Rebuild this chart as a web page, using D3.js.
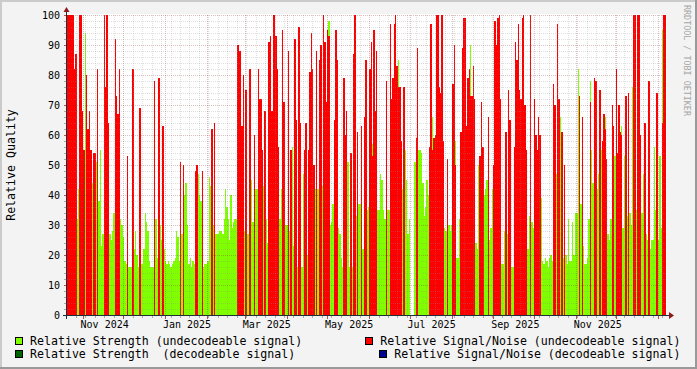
<!DOCTYPE html>
<html><head><meta charset="utf-8">
<script src="https://cdn.jsdelivr.net/npm/d3@7"></script>
<style>
html,body{margin:0;padding:0;background:#F3F3F3;}
svg{display:block;}
text{font-family:"DejaVu Sans Mono",monospace;fill:#000;}
</style></head><body>
<svg id="chart" width="697" height="369"></svg>
<script>
// Relative Strength (undecodeable signal), one value per day
const strength = [
null,null,null,null,null,null,null,32,42,null,
null,null,null,94,null,null,null,null,44,null,
null,51,null,38,55,23,27,null,null,null,
null,27,25,28,34,null,null,null,null,32,
30,26,18,17,null,16,16,16,null,22,
28,20,16,null,17,17,22,34,31,28,
18,16,16,16,null,32,19,null,30,25,
null,22,18,17,18,17,16,17,18,19,
28,26,18,null,27,null,40,44,30,17,
19,16,18,17,null,null,47,40,38,null,
16,17,17,18,46,43,null,30,null,27,
27,27,28,28,27,32,42,36,32,25,
40,29,31,32,32,null,null,null,null,null,
28,null,27,27,null,45,31,null,42,42,
null,null,null,null,43,null,32,24,null,null,
null,null,null,null,null,null,32,42,null,null,
30,30,null,28,null,56,23,null,null,16,
null,null,16,47,null,null,20,null,null,null,
null,null,42,null,42,null,null,43,null,null,
null,null,98,30,31,37,null,null,null,29,
27,19,16,null,null,null,51,16,null,16,
null,null,33,null,37,37,null,22,null,null,
35,36,null,null,57,null,null,null,35,35,
47,45,35,32,null,35,35,null,null,null,
null,null,null,85,null,null,42,null,55,45,
27,32,null,null,null,51,null,null,55,55,
54,44,33,36,45,40,null,null,66,null,
null,null,null,null,null,null,null,29,28,null,
30,28,30,null,null,58,19,19,32,null,
null,null,null,null,null,null,90,null,null,null,
24,22,50,null,null,null,40,42,45,null,
25,29,42,null,null,null,null,null,null,17,
17,28,null,27,null,null,16,16,null,null,
null,null,null,null,null,null,null,null,22,33,
null,31,29,null,null,null,null,null,39,18,
17,19,18,16,19,20,18,null,null,47,
null,null,66,null,19,null,20,17,32,18,
18,31,20,34,34,82,null,37,null,23,
17,17,19,32,78,55,44,null,null,42,
47,null,55,null,null,66,null,27,25,32,
null,null,53,null,null,null,null,63,29,53,
null,33,null,34,30,76,null,null,35,null,
null,null,34,47,null,27,25,null,22,25,
25,56,35,null,25,53,29,95,null,null
];
// Relative Signal/Noise (undecodeable signal), one value per day
const snr = [
100,100,100,100,100,82,87,null,null,100,
100,68,55,null,80,62,68,55,null,54,
54,null,82,null,null,null,null,100,76,100,
64,null,null,null,null,92,73,67,82,null,
null,null,null,null,53,null,null,null,82,null,
null,null,null,69,null,null,null,null,null,null,
null,null,null,null,78,null,null,79,null,null,
63,null,null,null,null,null,null,null,null,null,
null,null,null,51,null,50,null,null,null,null,
null,null,null,null,48,50,null,null,null,48,
null,null,null,null,null,null,62,null,64,null,
null,null,null,null,null,null,null,null,null,null,
null,null,null,null,null,90,88,88,63,80,
null,75,null,null,82,null,null,60,null,null,
82,72,72,55,null,68,null,null,91,93,
68,100,100,93,82,56,null,null,95,71,
null,null,88,null,55,null,null,92,65,null,
96,64,null,null,55,64,null,55,81,94,
82,50,null,88,null,85,90,null,100,91,
71,95,93,null,null,null,65,95,85,null,
null,null,null,79,60,68,null,null,54,null,
87,100,null,61,null,null,63,null,66,85,
null,null,82,91,53,95,68,88,null,null,
null,null,null,null,78,null,null,97,72,79,
97,100,83,76,76,58,null,76,null,null,
null,null,null,null,null,null,59,89,null,null,
null,null,null,null,null,null,56,97,55,59,
60,100,100,76,74,100,58,null,null,52,
null,null,null,77,90,50,null,null,null,61,
89,99,99,63,79,82,73,73,83,72,
null,null,null,53,71,56,null,null,null,66,
null,null,null,50,98,90,99,100,72,null,
null,null,61,null,75,65,null,null,56,91,
85,97,75,72,99,100,70,55,null,null,
100,null,null,72,60,55,66,60,null,null,
null,null,null,null,null,null,null,77,70,null,
97,72,null,61,null,50,null,null,null,null,
null,null,null,null,null,null,73,null,66,null,
null,null,null,null,71,null,null,79,78,null,
null,75,null,58,67,62,52,null,null,null,
70,63,null,82,54,70,61,60,null,null,
73,null,74,null,null,null,100,100,null,100,
100,60,null,null,64,null,null,78,null,null,
null,null,null,74,null,null,null,64,100,100
];
// decodeable series: no samples in this period
const strengthDecodeable = [];
const snrDecodeable = [];

const yTickValues = [0,10,20,30,40,50,60,70,80,90,100];
const timeStart = new Date(Date.UTC(2024, 9, 20, 9, 6));
const timeEnd = new Date(Date.UTC(2026, 0, 6, 18, 6));
const yTitle = "Relative Quality";
const watermark = "RRDTOOL / TOBI OETIKER";
const legendItems = [
  {label: "Relative Strength (undecodeable signal)", color: "#80FF00"},
  {label: "Relative Signal/Noise (undecodeable signal)", color: "#FF0000"},
  {label: "Relative Strength  (decodeable signal)", color: "#006400"},
  {label: "Relative Signal/Noise (decodeable signal)", color: "#000090"}
];

const W = 697, H = 369;
const L = 67, R = 666, T = 15, B = 315;
const svg = d3.select("#chart");

// background and 3D border
svg.append("rect").attr("x",0).attr("y",0).attr("width",W).attr("height",H).attr("fill","#F3F3F3");
svg.append("rect").attr("x",0).attr("y",0).attr("width",W).attr("height",2).attr("fill","#CBCBCB");
svg.append("rect").attr("x",0).attr("y",0).attr("width",2).attr("height",H).attr("fill","#CBCBCB");
svg.append("rect").attr("x",0).attr("y",H-2).attr("width",W).attr("height",2).attr("fill","#999999");
svg.append("rect").attr("x",W-2).attr("y",0).attr("width",2).attr("height",H).attr("fill","#999999");

// canvas
svg.append("rect").attr("x",L).attr("y",T-1).attr("width",R-L+1).attr("height",B-T+1).attr("fill","#FFFFFF");

const N = strength.length;
const xi = d3.scaleLinear().domain([0, N]).range([L, R]);
const xt = d3.scaleUtc().domain([timeStart, timeEnd]).range([L, R]);
const y = d3.scaleLinear().domain([0, 100]).range([B, T]);

function barX(i){ return Math.round(xi(i)); }
function barW(i){ return Math.max(1, Math.round(xi(i+1)) - Math.round(xi(i))); }

const bars = svg.append("g").attr("shape-rendering","crispEdges");
function drawSeries(arr, color){
  bars.append("g").selectAll("rect")
    .data(arr.map((v,i)=>({v,i})).filter(d=>d.v!=null && d.v>0))
    .join("rect")
    .attr("x", d=>barX(d.i))
    .attr("width", d=>barW(d.i))
    .attr("y", d=>Math.round(y(d.v)))
    .attr("height", d=>B - Math.round(y(d.v)))
    .attr("fill", color);
}
drawSeries(strength, "#80FF00");
drawSeries(snr, "#FF0000");
drawSeries(strengthDecodeable, "#006400");
drawSeries(snrDecodeable, "#000090");

// grid (drawn on top, translucent, dotted)
const grid = svg.append("g").attr("shape-rendering","crispEdges");
const minorY = d3.range(0, 101, 2).filter(v => v % 10 !== 0);
const minorCol = "rgba(140,140,140,0.28)", majorCol = "rgba(130,30,30,0.28)";
grid.selectAll("line.hy").data(minorY).join("line")
  .attr("x1",L).attr("x2",R).attr("y1",d=>Math.round(y(d))+0.5).attr("y2",d=>Math.round(y(d))+0.5)
  .attr("stroke",minorCol).attr("stroke-dasharray","1,1");
const weeks = d3.utcSunday.range(timeStart, timeEnd);
const months = d3.utcMonth.range(timeStart, timeEnd);
const monthKeys = new Set(months.map(d=>+d));
grid.selectAll("line.vx").data(weeks.filter(d=>!monthKeys.has(+d))).join("line")
  .attr("y1",T).attr("y2",B).attr("x1",d=>Math.round(xt(d))+0.5).attr("x2",d=>Math.round(xt(d))+0.5)
  .attr("stroke",minorCol).attr("stroke-dasharray","1,1");
grid.selectAll("line.my").data(yTickValues.filter(v=>v>0)).join("line")
  .attr("x1",L).attr("x2",R).attr("y1",d=>Math.round(y(d))+0.5).attr("y2",d=>Math.round(y(d))+0.5)
  .attr("stroke",majorCol).attr("stroke-dasharray","1,1");
grid.selectAll("line.mx").data(months).join("line")
  .attr("y1",T).attr("y2",B).attr("x1",d=>Math.round(xt(d))+0.5).attr("x2",d=>Math.round(xt(d))+0.5)
  .attr("stroke",majorCol).attr("stroke-dasharray","1,1");

// ticks
const ticks = svg.append("g").attr("shape-rendering","crispEdges");
ticks.selectAll("line.tw").data(weeks).join("line")
  .attr("x1",d=>Math.round(xt(d))+0.5).attr("x2",d=>Math.round(xt(d))+0.5)
  .attr("y1",B+1).attr("y2",B+3).attr("stroke","rgba(140,140,140,0.7)");
ticks.selectAll("line.tm").data(months).join("line")
  .attr("x1",d=>Math.round(xt(d))+0.5).attr("x2",d=>Math.round(xt(d))+0.5)
  .attr("y1",B+1).attr("y2",B+4).attr("stroke","rgba(160,40,40,0.8)");
ticks.selectAll("line.ty").data(d3.range(0,101,2)).join("line")
  .attr("x1",L-3).attr("x2",L-1).attr("y1",d=>Math.round(y(d))+0.5).attr("y2",d=>Math.round(y(d))+0.5)
  .attr("stroke",d=> d%10===0 ? "rgba(160,40,40,0.8)" : "rgba(140,140,140,0.7)");

// axes lines and arrows
const axisCol = "#1F2F3A";
svg.append("line").attr("x1",L-4).attr("x2",R+4).attr("y1",B+0.5).attr("y2",B+0.5)
  .attr("stroke",axisCol).attr("shape-rendering","crispEdges");
svg.append("line").attr("x1",L-0.5).attr("x2",L-0.5).attr("y1",B+4).attr("y2",T-3)
  .attr("stroke",axisCol).attr("shape-rendering","crispEdges");
svg.append("path").attr("d",`M${R+3},${B-3} L${R+8},${B+0.5} L${R+3},${B+4} Z`).attr("fill","#8B1A1A");
svg.append("path").attr("d",`M${L-3.5},${T-3} L${L-0.5},${T-8} L${L+2.5},${T-3} Z`).attr("fill","#8B1A1A");

// y labels
svg.append("g").selectAll("text").data(yTickValues).join("text")
  .attr("x",L-7).attr("y",d=>y(d)+0.5).attr("dy","0.36em").attr("text-anchor","end")
  .style("font-size","10px").text(d=>d);

// x labels (RRDtool style: centred on mid-month)
const labelMonths = d3.utcMonth.every(2).range(d3.utcMonth.floor(timeStart), timeEnd);
const fmt = d3.utcFormat("%b %Y");
svg.append("g").selectAll("text").data(labelMonths).join("text")
  .attr("x",d=>xt(d3.utcHour.offset(d, 15*24+12))+1).attr("y",328.3).attr("text-anchor","middle")
  .style("font-size","10px").text(d=>fmt(d))
  .filter(function(d){ const c = xt(d3.utcHour.offset(d, 15*24+12)); return c < L+10 || c > R; }).remove();

// y title
svg.append("text").attr("transform",`translate(15,${(T+B)/2}) rotate(-90)`)
  .attr("text-anchor","middle").style("font-size","11.6px").text(yTitle);

// watermark
svg.append("text").attr("transform",`translate(684,5) rotate(90)`)
  .attr("text-anchor","start").style("font-size","8.4px").style("fill","#A6A6A6").text(watermark);

// legend
const legPos = [
  {bx:15, by:337, tx:30, ty:345},
  {bx:365, by:337, tx:380.3, ty:345},
  {bx:15, by:350.3, tx:30, ty:358.3},
  {bx:379.3, by:350.3, tx:394.3, ty:358.3}
];
const leg = svg.append("g");
legendItems.forEach((it, k) => {
  const p = legPos[k];
  leg.append("rect").attr("x",Math.round(p.bx)+0.5).attr("y",Math.round(p.by)+0.5).attr("width",7).attr("height",7)
    .attr("fill",it.color).attr("stroke","#000").attr("shape-rendering","crispEdges");
  leg.append("text").attr("x",p.tx).attr("y",p.ty).attr("xml:space","preserve")
    .style("white-space","pre").style("font-size","11.6px").text(it.label);
});
</script>
</body></html>
